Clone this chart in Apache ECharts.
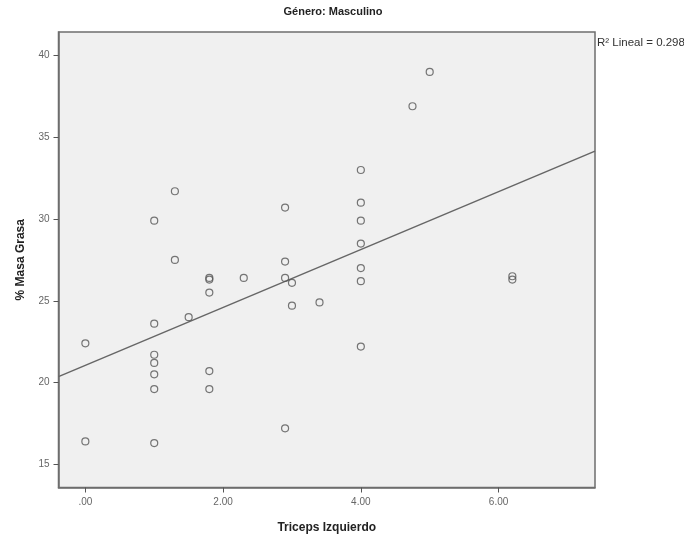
<!DOCTYPE html>
<html>
<head>
<meta charset="utf-8">
<script src="https://cdn.jsdelivr.net/npm/echarts@6/dist/echarts.min.js"></script>
<style>
html,body{margin:0;padding:0;background:#fff;}
#chart{width:684px;height:537px;}
</style>
</head>
<body>
<div id="chart"></div>
<script>
// Data
var tricepsIzquierdo = [0, 0, 1, 1, 1, 1, 1, 1, 1, 1.3, 1.3, 1.5, 1.8, 1.8, 1.8, 1.8, 1.8, 2.3, 2.9, 2.9, 2.9, 2.9, 3.0, 3.0, 3.4, 4, 4, 4, 4, 4, 4, 4, 4.75, 5.0, 6.2, 6.2];
var masaGrasa = [22.4, 16.4, 29.9, 23.6, 21.7, 21.2, 20.5, 19.6, 16.3, 31.7, 27.5, 24.0, 26.3, 26.4, 25.5, 20.7, 19.6, 26.4, 30.7, 27.4, 26.4, 17.2, 26.1, 24.7, 24.9, 33.0, 31.0, 29.9, 28.5, 27.0, 26.2, 22.2, 36.9, 39.0, 26.5, 26.3];
var xTicks = [0, 2, 4, 6];
var xTickLabels = ['.00', '2.00', '4.00', '6.00'];
var yTicks = [15, 20, 25, 30, 35, 40];
var chartTitle = 'Género: Masculino';
var xName = 'Triceps Izquierdo';
var yName = '% Masa Grasa';
var r2Label = 'R\u00B2 Lineal = 0.298';

var X_MIN = -0.39, X_MAX = 7.40, Y_MIN = 13.58, Y_MAX = 41.44;

// least squares fit line from the data
var n = tricepsIzquierdo.length, sx = 0, sy = 0;
for (var i = 0; i < n; i++) { sx += tricepsIzquierdo[i]; sy += masaGrasa[i]; }
var mx = sx / n, my = sy / n, sxy = 0, sxx = 0;
for (var i = 0; i < n; i++) { sxy += (tricepsIzquierdo[i] - mx) * (masaGrasa[i] - my); sxx += (tricepsIzquierdo[i] - mx) * (tricepsIzquierdo[i] - mx); }
var slope = sxy / sxx, intercept = my - slope * mx;
var fitLine = [[X_MIN, intercept + slope * X_MIN], [X_MAX, intercept + slope * X_MAX]];

var points = tricepsIzquierdo.map(function (x, i) { return [x, masaGrasa[i]]; });

var chart = echarts.init(document.getElementById('chart'), null, { renderer: 'canvas' });
chart.setOption({
  animation: false,
  backgroundColor: '#ffffff',
  title: {
    text: chartTitle,
    left: 328, top: 1, textAlign: 'center',
    textStyle: { fontFamily: 'Arial, Liberation Sans', fontSize: 11, fontWeight: 'bold', color: '#222' }
  },
  grid: {
    left: 58.5, right: 89, top: 32, bottom: 49.5,
    containLabel: false, outerBoundsMode: 'none',
    show: true, backgroundColor: '#f0f0f0', borderColor: '#6e6e6e', borderWidth: 1.5
  },
  xAxis: {
    type: 'value', min: X_MIN, max: X_MAX,
    name: xName, nameLocation: 'middle', nameGap: 34,
    nameTextStyle: { fontFamily: 'Arial, Liberation Sans', fontSize: 12, fontWeight: 'bold', color: '#222' },
    axisLine: { show: true, onZero: false, lineStyle: { color: '#6e6e6e', width: 1.5 } },
    axisTick: { show: true, length: 5, customValues: xTicks, lineStyle: { color: '#555' } },
    axisLabel: {
      customValues: xTicks, margin: 10,
      fontFamily: 'Arial, Liberation Sans', fontSize: 10, color: '#666',
      formatter: function (v) { var k = xTicks.indexOf(v); return k >= 0 ? xTickLabels[k] : ''; }
    },
    splitLine: { show: false }
  },
  yAxis: {
    type: 'value', min: Y_MIN, max: Y_MAX,
    name: yName, nameLocation: 'middle', nameGap: 32, nameRotate: 90,
    nameTextStyle: { fontFamily: 'Arial, Liberation Sans', fontSize: 12, fontWeight: 'bold', color: '#222' },
    axisLine: { show: true, onZero: false, lineStyle: { color: '#6e6e6e', width: 1.5 } },
    axisTick: { show: true, length: 5, customValues: yTicks, lineStyle: { color: '#555' } },
    axisLabel: {
      customValues: yTicks, margin: 9,
      fontFamily: 'Arial, Liberation Sans', fontSize: 10, color: '#666'
    },
    splitLine: { show: false }
  },
  graphic: [{
    type: 'text', left: 597, top: 37,
    style: { text: r2Label, font: '11.5px Arial, Liberation Sans', fill: '#333' }
  }],
  series: [{
    type: 'line', data: fitLine, symbol: 'none', silent: true,
    lineStyle: { color: '#666', width: 1.5 }, z: 2
  }, {
    type: 'scatter', data: points, symbol: 'circle', symbolSize: 7,
    itemStyle: { color: 'rgba(0,0,0,0)', borderColor: '#555', borderWidth: 1.2 }, z: 3
  }]
});
</script>
</body>
</html>
